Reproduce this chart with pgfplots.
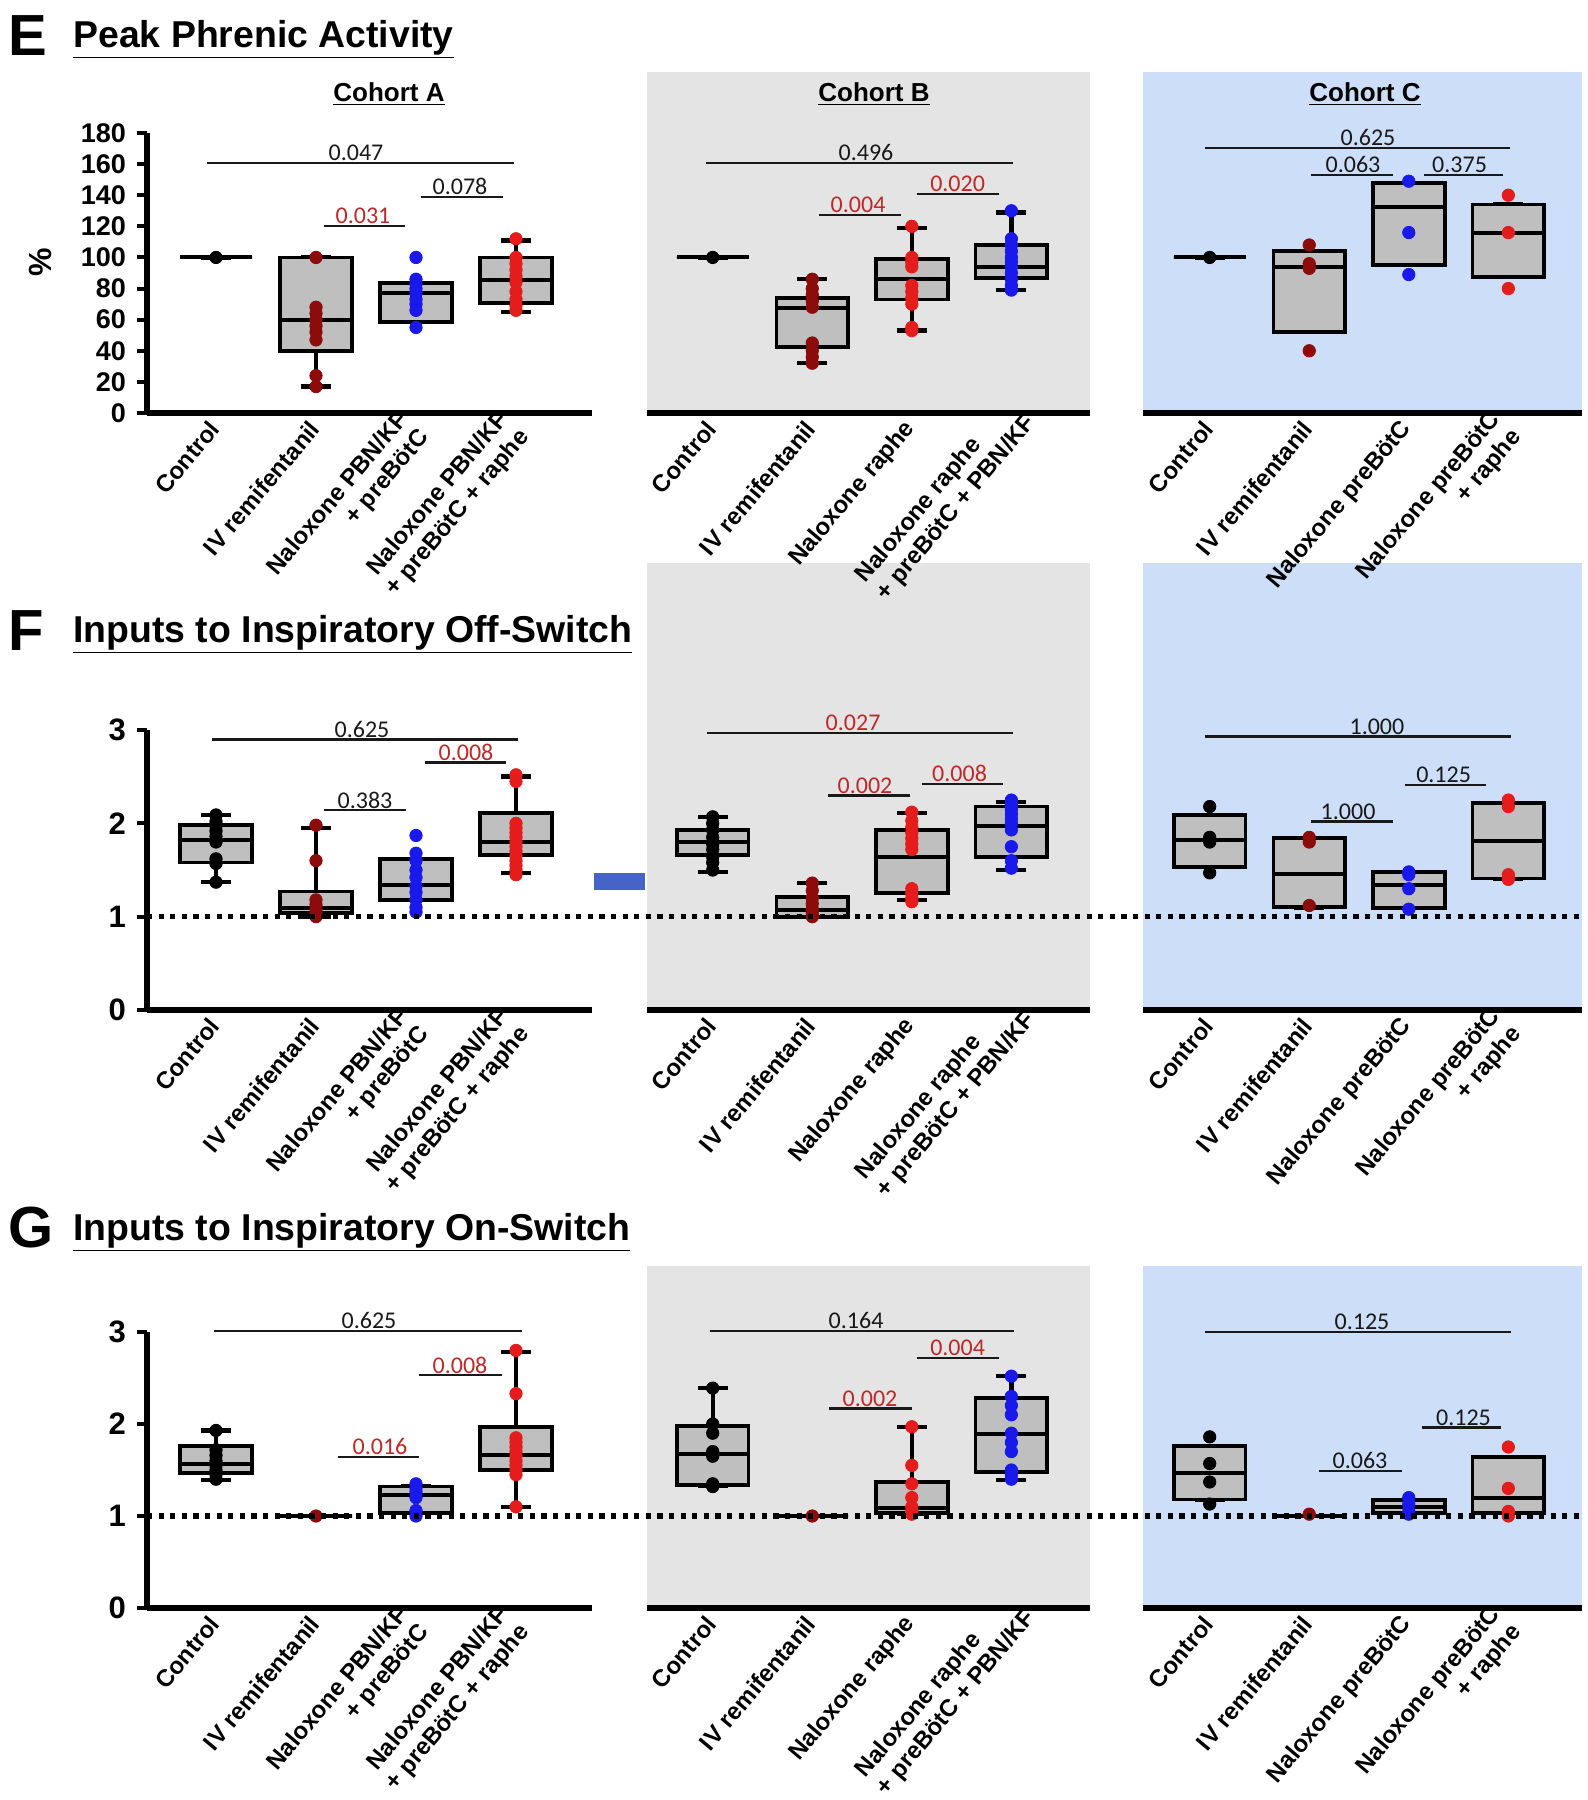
\documentclass[border=0pt]{standalone}
\usepackage{pgfplots}
\pgfplotsset{compat=1.18}
\usepgfplotslibrary{statistics}
\usepackage{fontspec}
\setmainfont{Liberation Sans}
\newfontfamily\pvfont{Carlito}
\definecolor{bggray}{RGB}{228,228,228}
\definecolor{bgblue}{RGB}{205,222,248}
\definecolor{boxgray}{RGB}{191,191,191}
\definecolor{dred}{RGB}{140,12,12}
\definecolor{pred}{RGB}{228,28,28}
\definecolor{pblue}{RGB}{25,25,235}
\definecolor{sigred}{RGB}{190,40,40}
\definecolor{artblue}{RGB}{70,100,200}
\newcommand{\lbl}{\fontsize{12}{13.6}\selectfont\bfseries}
\newcommand{\bx}[6]{\addplot[boxst, boxplot prepared={draw position=#1, lower whisker=#2, lower quartile=#3, median=#4, upper quartile=#5, upper whisker=#6}] coordinates {};}
\newcommand{\br}[6]{\draw[line width=1.2pt, black!90] (axis cs:#1,#3) -- (axis cs:#2,#3); \node[anchor=south, inner sep=0.8pt, font=\pvfont\fontsize{12}{13}\selectfont, text=#6] at (axis cs:#4,#3) {#5};}
\pgfplotsset{
 boxst/.style={draw=black, fill=boxgray, line width=1.9pt, solid, mark=none,
   boxplot/draw direction=y,
   boxplot/box extend=0.72, boxplot/whisker extend=0.3,
   boxplot/every median/.style={line width=2pt},
   boxplot/every whisker/.style={line width=2.2pt}},
 pts/.style={only marks, mark=*, mark size=3.1pt, color=#1},
 base/.style={scale only axis, clip=false, axis x line*=bottom,
   x axis line style={line width=2.7pt}, xtick={0,1,2,3}, xtick style={draw=none},
   tick align=outside, major tick length=5pt,
   xticklabel style={font=\lbl, yshift=0pt, rotate=50, anchor=east, align=right, inner sep=1pt},
   ymin=0, /pgf/number format/assume math mode=true},
 pA/.style={base, xmin=-0.69, xmax=3.76, width=222.5pt, axis y line*=left,
   y axis line style={line width=2.7pt},
   ytick style={line width=2pt, black}},
 pB/.style={base, xmin=-0.66, xmax=3.79, width=221.5pt, axis y line=none, ytick=\empty},
 pC/.style={base, xmin=-0.67, xmax=3.74, width=219.5pt, axis y line=none, ytick=\empty},
 labA/.style={xticklabels={Control, IV remifentanil, {Naloxone PBN/KF\\+ preBötC}, {Naloxone PBN/KF\\+ preBötC + raphe}}},
 labB/.style={xticklabels={Control, IV remifentanil, Naloxone raphe, {\begin{tabular}{@{}l@{}}Naloxone raphe\\+ preBötC + PBN/KF\end{tabular}\kern-9pt}}},
 labC/.style={xticklabels={Control, IV remifentanil, Naloxone preBötC, {Naloxone preBötC\\+ raphe}}},
}
\begin{document}
\begin{tikzpicture}
\begin{scope}[x=0.5pt,y=0.5pt]
\fill[bggray] (647,-72) rectangle (1090,-413);
\fill[bgblue] (1143,-72) rectangle (1582,-413);
\fill[bggray] (647,-563) rectangle (1090,-1010);
\fill[bgblue] (1143,-563) rectangle (1582,-1010);
\fill[bggray] (647,-1266) rectangle (1090,-1608);
\fill[bgblue] (1143,-1266) rectangle (1582,-1608);
\fill[artblue] (594,-873) rectangle (645,-890);
\node[anchor=base west, inner sep=0, font=\fontsize{29}{30}\selectfont\bfseries] at (8,-55) {E};
\node[anchor=base west, inner sep=0, font=\fontsize{18.7}{20}\selectfont\bfseries] at (73,-47) {\underline{Peak Phrenic Activity}};
\node[anchor=base west, inner sep=0, font=\fontsize{29}{30}\selectfont\bfseries] at (8,-650) {F};
\node[anchor=base west, inner sep=0, font=\fontsize{18.7}{20}\selectfont\bfseries] at (73,-642) {\underline{Inputs to Inspiratory Off-Switch}};
\node[anchor=base west, inner sep=0, font=\fontsize{29}{30}\selectfont\bfseries] at (8,-1247) {G};
\node[anchor=base west, inner sep=0, font=\fontsize{18.7}{20}\selectfont\bfseries] at (73,-1240) {\underline{Inputs to Inspiratory On-Switch}};
\node[anchor=base, inner sep=0, font=\fontsize{13}{14}\selectfont\bfseries] at (389,-101) {\underline{Cohort A}};
\node[anchor=base, inner sep=0, font=\fontsize{13}{14}\selectfont\bfseries] at (874,-101) {\underline{Cohort B}};
\node[anchor=base, inner sep=0, font=\fontsize{13}{14}\selectfont\bfseries] at (1365,-101) {\underline{Cohort C}};
\node[rotate=90, font=\fontsize{16}{17}\selectfont\bfseries] at (40,-262) {\%};
\end{scope}

% ===== Row E =====
\begin{axis}[pA, labA, at={(73.5pt,-206.5pt)}, anchor=south west, height=140pt, ymax=180,
  ytick={0,20,...,180}, yticklabel style={font=\fontsize{13.5}{14}\selectfont\bfseries, xshift=-2pt}]
\bx{0}{100}{100}{100}{100}{100}
\bx{1}{17}{40}{60}{100}{100}
\bx{2}{58.5}{58.5}{77}{83.6}{83.6}
\bx{3}{65}{70.7}{85.5}{100}{111}
\addplot[pts=black] coordinates {(0,100)};
\addplot[pts=dred] coordinates {(1,100)(1,68)(1,64)(1,60)(1,56)(1,52)(1,47)(1,24)(1,17)};
\addplot[pts=pblue] coordinates {(2,100)(2,86)(2,83)(2,80)(2,77)(2,73)(2,70)(2,66)(2,55)};
\addplot[pts=pred] coordinates {(3,112)(3,100)(3,96)(3,92)(3,88)(3,84)(3,78)(3,73)(3,69)(3,66)};
\br{-0.09}{2.98}{160.8}{1.40}{0.047}{black!90}
\br{1.08}{1.89}{120.3}{1.47}{0.031}{sigred}
\br{2.05}{2.87}{139}{2.44}{0.078}{black!90}
\end{axis}
\begin{axis}[pB, labB, at={(323.5pt,-206.5pt)}, anchor=south west, height=170.5pt, ymax=219.2]
\bx{0}{100}{100}{100}{100}{100}
\bx{1}{32}{42.4}{67.5}{74}{86}
\bx{2}{53}{73}{86}{99}{119}
\bx{3}{79}{86.8}{94}{108}{129}
\addplot[pts=black] coordinates {(0,100)};
\addplot[pts=dred] coordinates {(1,86)(1,80)(1,76)(1,72)(1,68)(1,45)(1,40)(1,36)(1,32)};
\addplot[pts=pred] coordinates {(2,120)(2,100)(2,97)(2,94)(2,82)(2,78)(2,74)(2,70)(2,55)(2,53)};
\addplot[pts=pblue] coordinates {(3,130)(3,112)(3,108)(3,104)(3,100)(3,97)(3,94)(3,90)(3,86)(3,82)(3,79)};
\br{-0.07}{3.02}{160.7}{1.54}{0.496}{black!90}
\br{1.07}{1.89}{127.3}{1.46}{0.004}{sigred}
\br{2.05}{2.88}{140.8}{2.46}{0.020}{sigred}
\end{axis}
\begin{axis}[pC, labC, at={(571.5pt,-206.5pt)}, anchor=south west, height=170.5pt, ymax=219.2]
\bx{0}{100}{100}{100}{100}{100}
\bx{1}{52}{52}{94}{104}{104}
\bx{2}{95}{95}{132.5}{148}{148}
\bx{3}{87.5}{87.5}{116}{134}{134}
\addplot[pts=black] coordinates {(0,100)};
\addplot[pts=dred] coordinates {(1,108)(1,96)(1,93)(1,40)};
\addplot[pts=pblue] coordinates {(2,149)(2,116)(2,89)};
\addplot[pts=pred] coordinates {(3,140)(3,116)(3,80)};
\br{-0.05}{3.02}{170.4}{1.59}{0.625}{black!90}
\br{1.02}{1.84}{153}{1.44}{0.063}{black!90}
\br{2.15}{2.95}{153}{2.51}{0.375}{black!90}
\end{axis}

% ===== Row F =====
\begin{axis}[pA, labA, at={(73.5pt,-505pt)}, anchor=south west, height=140pt, ymax=3,
  ytick={0,1,2,3}, yticklabel style={font=\fontsize{15.5}{16}\selectfont\bfseries, xshift=-2pt}]
\bx{0}{1.37}{1.58}{1.82}{1.98}{2.09}
\bx{1}{1.0}{1.04}{1.09}{1.27}{1.95}
\bx{2}{1.18}{1.18}{1.34}{1.62}{1.62}
\bx{3}{1.47}{1.66}{1.80}{2.11}{2.5}
\addplot[pts=black] coordinates {(0,2.09)(0,2.02)(0,1.97)(0,1.92)(0,1.86)(0,1.8)(0,1.62)(0,1.57)(0,1.37)};
\addplot[pts=dred] coordinates {(1,1.98)(1,1.6)(1,1.18)(1,1.13)(1,1.08)(1,1.04)(1,1.0)};
\addplot[pts=pblue] coordinates {(2,1.87)(2,1.68)(2,1.6)(2,1.5)(2,1.42)(2,1.33)(2,1.26)(2,1.18)(2,1.1)(2,1.05)};
\addplot[pts=pred] coordinates {(3,2.52)(3,2.45)(3,2.0)(3,1.95)(3,1.9)(3,1.85)(3,1.8)(3,1.75)(3,1.7)(3,1.65)(3,1.6)(3,1.55)(3,1.5)(3,1.45)};
\br{-0.04}{3.02}{2.9}{1.46}{0.625}{black!90}
\br{2.09}{2.9}{2.65}{2.5}{0.008}{sigred}
\br{1.08}{1.9}{2.14}{1.49}{0.383}{black!90}
\end{axis}
\begin{axis}[pB, labB, at={(323.5pt,-505pt)}, anchor=south west, height=223.5pt, ymax=4.79]
\bx{0}{1.48}{1.66}{1.80}{1.93}{2.07}
\bx{1}{1.0}{1.0}{1.07}{1.21}{1.36}
\bx{2}{1.18}{1.25}{1.64}{1.93}{2.11}
\bx{3}{1.5}{1.64}{1.97}{2.18}{2.23}
\addplot[pts=black] coordinates {(0,2.07)(0,2.0)(0,1.93)(0,1.85)(0,1.78)(0,1.72)(0,1.64)(0,1.58)(0,1.5)};
\addplot[pts=dred] coordinates {(1,1.36)(1,1.28)(1,1.2)(1,1.14)(1,1.08)(1,1.04)(1,1.0)};
\addplot[pts=pred] coordinates {(2,2.12)(2,2.03)(2,1.96)(2,1.9)(2,1.84)(2,1.78)(2,1.72)(2,1.3)(2,1.25)(2,1.2)(2,1.16)};
\addplot[pts=pblue] coordinates {(3,2.25)(3,2.2)(3,2.15)(3,2.1)(3,2.05)(3,2.0)(3,1.93)(3,1.75)(3,1.6)(3,1.52)};
\br{-0.06}{3.02}{2.97}{1.41}{0.027}{sigred}
\br{1.16}{1.98}{2.3}{1.53}{0.002}{sigred}
\br{2.1}{2.92}{2.42}{2.48}{0.008}{sigred}
\end{axis}
\begin{axis}[pC, labC, at={(571.5pt,-505pt)}, anchor=south west, height=223.5pt, ymax=4.79]
\bx{0}{1.53}{1.53}{1.82}{2.09}{2.09}
\bx{1}{1.1}{1.1}{1.46}{1.84}{1.84}
\bx{2}{1.09}{1.09}{1.34}{1.48}{1.48}
\bx{3}{1.41}{1.41}{1.81}{2.22}{2.22}
\addplot[pts=black] coordinates {(0,2.18)(0,1.85)(0,1.8)(0,1.47)};
\addplot[pts=dred] coordinates {(1,1.85)(1,1.8)(1,1.12)};
\addplot[pts=pblue] coordinates {(2,1.48)(2,1.45)(2,1.3)(2,1.08)};
\addplot[pts=pred] coordinates {(3,2.25)(3,2.18)(3,1.45)(3,1.4)};
\br{-0.05}{3.03}{2.93}{1.68}{1.000}{black!90}
\br{1.02}{1.84}{2.02}{1.39}{1.000}{black!90}
\br{1.96}{2.78}{2.41}{2.35}{0.125}{black!90}
\end{axis}

% ===== Row G =====
\begin{axis}[pA, labA, at={(73.5pt,-804pt)}, anchor=south west, height=138pt, ymax=3,
  ytick={0,1,2,3}, yticklabel style={font=\fontsize{15.5}{16}\selectfont\bfseries, xshift=-2pt}]
\bx{0}{1.39}{1.47}{1.57}{1.76}{1.93}
\bx{1}{1}{1}{1}{1}{1}
\bx{2}{1.03}{1.03}{1.23}{1.32}{1.32}
\bx{3}{1.1}{1.5}{1.66}{1.97}{2.78}
\addplot[pts=black] coordinates {(0,1.93)(0,1.72)(0,1.66)(0,1.6)(0,1.55)(0,1.5)(0,1.45)(0,1.4)};
\addplot[pts=dred] coordinates {(1,1.0)};
\addplot[pts=pblue] coordinates {(2,1.35)(2,1.3)(2,1.26)(2,1.2)(2,1.06)(2,1.0)};
\addplot[pts=pred] coordinates {(3,2.8)(3,2.33)(3,1.85)(3,1.8)(3,1.75)(3,1.7)(3,1.65)(3,1.6)(3,1.55)(3,1.5)(3,1.45)(3,1.1)};
\br{-0.02}{3.06}{3.01}{1.53}{0.625}{black!90}
\br{1.22}{2.03}{1.64}{1.64}{0.016}{sigred}
\br{2.03}{2.86}{2.53}{2.44}{0.008}{sigred}
\end{axis}
\begin{axis}[pB, labB, at={(323.5pt,-804pt)}, anchor=south west, height=171pt, ymax=3.717]
\bx{0}{1.33}{1.34}{1.67}{1.98}{2.39}
\bx{1}{1}{1}{1}{1}{1}
\bx{2}{1.02}{1.03}{1.09}{1.37}{1.97}
\bx{3}{1.39}{1.48}{1.89}{2.28}{2.52}
\addplot[pts=black] coordinates {(0,2.39)(0,2.0)(0,1.9)(0,1.7)(0,1.65)(0,1.35)(0,1.32)};
\addplot[pts=dred] coordinates {(1,1.0)};
\addplot[pts=pred] coordinates {(2,1.97)(2,1.55)(2,1.35)(2,1.2)(2,1.1)(2,1.05)(2,1.02)};
\addplot[pts=pblue] coordinates {(3,2.52)(3,2.3)(3,2.2)(3,2.1)(3,1.9)(3,1.8)(3,1.7)(3,1.5)(3,1.45)(3,1.4)};
\br{-0.03}{3.03}{3.01}{1.44}{0.164}{black!90}
\br{1.17}{2.0}{2.17}{1.58}{0.002}{sigred}
\br{2.05}{2.88}{2.72}{2.46}{0.004}{sigred}
\end{axis}
\begin{axis}[pC, labC, at={(571.5pt,-804pt)}, anchor=south west, height=171pt, ymax=3.717]
\bx{0}{1.18}{1.18}{1.47}{1.76}{1.76}
\bx{1}{1}{1}{1}{1}{1}
\bx{2}{1.03}{1.03}{1.1}{1.17}{1.17}
\bx{3}{1.03}{1.03}{1.2}{1.64}{1.64}
\addplot[pts=black] coordinates {(0,1.86)(0,1.57)(0,1.37)(0,1.13)};
\addplot[pts=dred] coordinates {(1,1.02)};
\addplot[pts=pblue] coordinates {(2,1.2)(2,1.13)(2,1.05)(2,1.02)};
\addplot[pts=pred] coordinates {(3,1.75)(3,1.3)(3,1.05)(3,1.0)};
\br{-0.05}{3.03}{3.0}{1.53}{0.125}{black!90}
\br{2.13}{2.93}{1.96}{2.55}{0.125}{black!90}
\br{1.10}{1.93}{1.49}{1.51}{0.063}{black!90}
\end{axis}

\begin{scope}[x=0.5pt,y=0.5pt]
\draw[line width=2.6pt, dash pattern=on 2.6pt off 3.2pt] (147,-916.7) -- (1582,-916.7);
\draw[line width=2.6pt, dash pattern=on 2.6pt off 3.2pt] (147,-1516) -- (1582,-1516);
\end{scope}
\pgfresetboundingbox
\useasboundingbox (0pt,0pt) rectangle (794pt,-900pt);
\end{tikzpicture}
\end{document}
